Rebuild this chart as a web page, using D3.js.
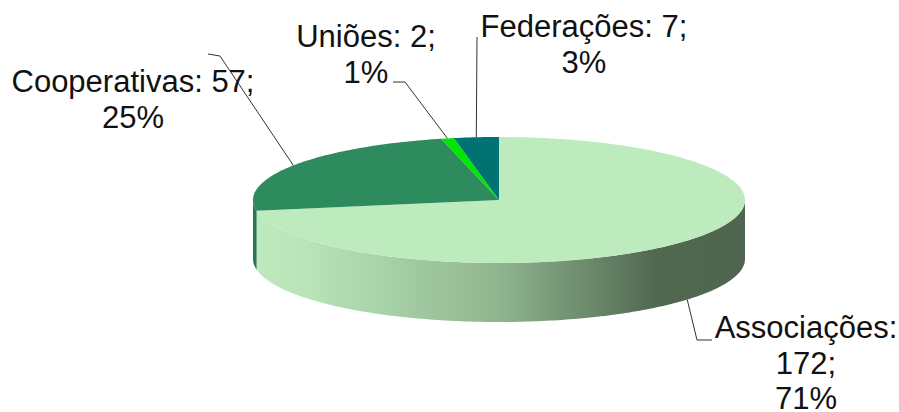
<!DOCTYPE html>
<html>
<head>
<meta charset="utf-8">
<script src="https://cdn.jsdelivr.net/npm/d3@7"></script>
<style>
  body { margin: 0; background: #fff; }
  svg { display: block; }
  text { font-family: "Liberation Sans", Arial, sans-serif; font-size: 31px; fill: #111; }
</style>
</head>
<body>
<svg id="chart" width="899" height="412"></svg>
<script>

// data
const categories = ['Associações', 'Cooperativas', 'Uniões', 'Federações'];
const values = [172, 57, 2, 7];
const percents = [71, 25, 1, 3];

const topColors = ['#bdebbd', '#2e8b5e', '#00e600', '#007272'];
const sideColors = ['url(#sideGrad)', '#27794f', '#00bf00', '#005c5c'];

// where each label sits, and the elbow of its leader line
const labelLayout = {
  'Associações': { x: 806, y: 338, elbow: [[697, 340], [712, 340]], wrap: true },
  'Cooperativas': { x: 133, y: 92, elbow: [[220, 56], [208, 54]] },
  'Uniões': { x: 366, y: 47, elbow: [[405, 82], [393, 82]] },
  'Federações': { x: 584, y: 37, elbow: [[477, 37]] }
};

const cx = 499, cy = 200, rx = 246, ry = 63, depth = 59;
const lineH = 35.5;

const svg = d3.select('#chart');

const grad = svg.append('defs')
  .append('linearGradient')
  .attr('id', 'sideGrad')
  .attr('gradientUnits', 'userSpaceOnUse')
  .attr('x1', cx - rx).attr('x2', cx + rx)
  .attr('y1', 0).attr('y2', 0);
[[0, '#bfeabf'], [0.1, '#b9e5b9'], [0.5, '#8fb58f'], [0.68, '#6c8a6c'], [0.82, '#506850'], [1, '#4f654f']]
  .forEach(function(s) {
    grad.append('stop').attr('offset', s[0]).attr('stop-color', s[1]);
  });

// angle 0 at 12 o'clock, clockwise
function pt(a, dy) {
  return [cx + rx * Math.sin(a), cy - ry * Math.cos(a) + (dy || 0)];
}

function arcPoints(a0, a1, dy) {
  const n = Math.max(2, Math.ceil(Math.abs(a1 - a0) * 60));
  return d3.range(n + 1).map(function(i) {
    return pt(a0 + (a1 - a0) * i / n, dy);
  });
}

const pie = d3.pie().sort(null).startAngle(0).endAngle(2 * Math.PI);
const arcs = pie(values);
const line = d3.line();

// side walls (only the front half is visible)
const sides = svg.append('g');
arcs.forEach(function(d, i) {
  const a0 = Math.max(d.startAngle, Math.PI / 2);
  const a1 = Math.min(d.endAngle, 3 * Math.PI / 2);
  if (a1 <= a0) return;
  const pts = arcPoints(a0, a1, 0).concat(arcPoints(a1, a0, depth));
  sides.append('path')
    .attr('d', line(pts) + 'Z')
    .attr('fill', sideColors[i]);
});

// top faces
const tops = svg.append('g');
arcs.forEach(function(d, i) {
  const pts = [[cx, cy]].concat(arcPoints(d.startAngle, d.endAngle, 0));
  tops.append('path')
    .attr('d', line(pts) + 'Z')
    .attr('fill', topColors[i]);
});

// leader lines and labels
const labels = svg.append('g');
arcs.forEach(function(d, i) {
  const name = categories[i];
  const lay = labelLayout[name];
  const mid = (d.startAngle + d.endAngle) / 2;
  const front = Math.cos(mid) < 0;
  const start = pt(mid, front ? depth : 0);

  labels.append('path')
    .attr('d', line([start].concat(lay.elbow)))
    .attr('fill', 'none')
    .attr('stroke', '#333')
    .attr('stroke-width', 1);

  const lines = lay.wrap
    ? [name + ':', values[i] + ';', percents[i] + '%']
    : [name + ': ' + values[i] + ';', percents[i] + '%'];

  const t = labels.append('text')
    .attr('text-anchor', 'middle');
  lines.forEach(function(s, k) {
    t.append('tspan')
      .attr('x', lay.x)
      .attr('y', lay.y + k * lineH)
      .text(s);
  });
});

</script>
</body>
</html>
